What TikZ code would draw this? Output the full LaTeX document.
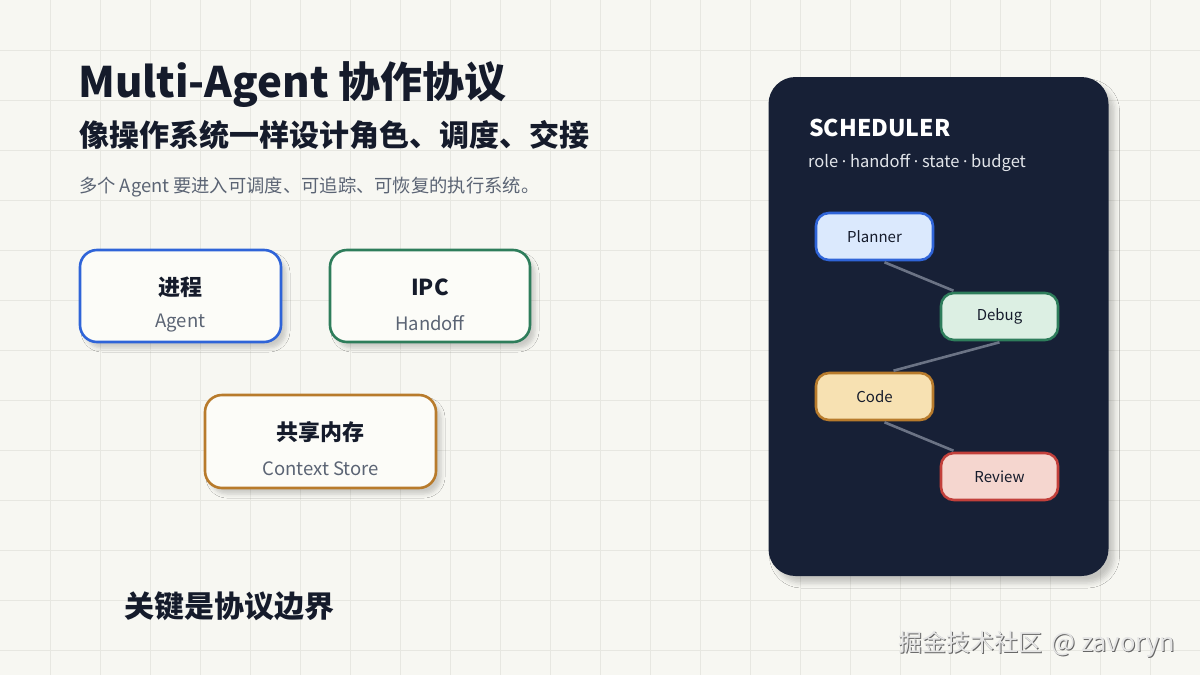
\documentclass[tikz,border=0pt]{standalone}
\usepackage{fontspec}
\setmainfont{Noto Sans CJK SC}
\newfontfamily\latdot{Noto Sans}
\usetikzlibrary{calc,shadows.blur}
\definecolor{bgc}{HTML}{F7F7F2}
\definecolor{gridc}{HTML}{E7E7E1}
\definecolor{ink}{HTML}{151B2B}
\definecolor{muted}{HTML}{5B6474}
\definecolor{cardfill}{HTML}{FCFCF8}
\definecolor{cblue}{HTML}{2F64D8}
\definecolor{cgreen}{HTML}{2E7D5B}
\definecolor{camber}{HTML}{B87B2C}
\definecolor{cred}{HTML}{C2403B}
\definecolor{navy}{HTML}{172036}
\definecolor{fblue}{HTML}{DBE9FD}
\definecolor{fgreen}{HTML}{DCEFE3}
\definecolor{famber}{HTML}{F7E1B2}
\definecolor{fred}{HTML}{F5D6CF}
\definecolor{linkc}{HTML}{6B7385}
\definecolor{softw}{HTML}{E2E5EA}
\newcommand{\fsz}[1]{\fontsize{#1}{#1}\selectfont}
\newcommand{\md}{{\latdot ·}}
\begin{document}
\begin{tikzpicture}[x=1pt,y=-1pt,
  card/.style={draw=#1,line width=2.6pt,fill=cardfill,rounded corners=17pt,
    minimum width=200pt,minimum height=91pt,inner sep=0pt,
    blur shadow={shadow xshift=5pt,shadow yshift=-6pt,shadow blur radius=4pt,shadow opacity=18}},
  cardtitle/.style={font=\fsz{22}\bfseries,text=ink,inner sep=0pt},
  cardsub/.style={font=\fsz{18.5},text=muted,inner sep=0pt},
  role/.style={draw=#1,line width=2.6pt,rounded corners=13pt,minimum width=117pt,
    minimum height=47pt,inner sep=0pt,font=\fsz{15},text=ink},
  link/.style={draw=linkc,line width=2.6pt}
]
\useasboundingbox (0,0) rectangle (1200,675);
\fill[bgc] (0,0) rectangle (1200,675);
\foreach \i in {50,100,...,1150} \draw[gridc,line width=1pt] (\i,0) -- (\i,675);
\foreach \j in {50,100,...,650} \draw[gridc,line width=1pt] (0,\j) -- (1200,\j);

% headings
\node[anchor=base west,inner sep=0pt,font=\fsz{42}\bfseries,text=ink] (title) at (78,97) {Multi-Agent 协作协议};
\node[anchor=base west,inner sep=0pt,font=\fsz{30}\bfseries,text=ink] (subtitle) at (79,146) {像操作系统一样设计角色、调度、交接};
\node[anchor=base west,inner sep=0pt,font=\fsz{18.3},text=muted] (desc) at (79,192) {多个 Agent 要进入可调度、可追踪、可恢复的执行系统。};

% cards
\node[card=cblue,minimum width=201pt,minimum height=92pt] (proc) at (180.5,296) {};
\node[cardtitle] at ($(proc.center)+(0,-9)$) {进程};
\node[cardsub] at ($(proc.center)+(0,27)$) {Agent};

\node[card=cgreen,minimum width=200pt,minimum height=92pt] (ipc) at (430,296) {};
\node[cardtitle] at ($(ipc.center)+(0,-9)$) {IPC};
\node[cardsub] at ($(ipc.center)+(0,27)$) {Handoff};

\node[card=camber,minimum width=231pt,minimum height=93pt] (mem) at (320.5,441.5) {};
\node[cardtitle] at ($(mem.center)+(0,-9)$) {共享内存};
\node[cardsub] at ($(mem.center)+(0,27)$) {Context Store};

\node[anchor=base west,inner sep=0pt,font=\fsz{30}\bfseries,text=ink] (key) at (124,617) {关键是协议边界};

% scheduler panel
\node[fill=navy,rounded corners=27pt,minimum width=340pt,minimum height=499pt,inner sep=0pt,
  blur shadow={shadow xshift=6pt,shadow yshift=-7pt,shadow blur radius=5pt,shadow opacity=20}] (panel) at (938.5,326.5) {};
\node[anchor=base west,inner sep=0pt,font=\fsz{23}\bfseries,text=white] (sched) at (809,136) {SCHEDULER};
\node[anchor=base west,inner sep=0pt,font=\fsz{16.5},text=softw] (tags) at (808,167) {role \md{} handoff \md{} state \md{} budget};

\node[role=cblue,fill=fblue] (planner) at (874.5,236.5) {Planner};
\node[role=cgreen,fill=fgreen] (debug) at (999.5,316.5) {Debug};
\node[role=camber,fill=famber] (code) at (874.5,396.5) {Code};
\node[role=cred,fill=fred] (review) at (999.5,476.5) {Review};

\draw[link] ($(planner.south)+(10,1)$) -- ($(debug.north)+(-46,-1)$);
\draw[link] ($(debug.south)+(0,1)$) -- ($(code.north)+(19,-1)$);
\draw[link] ($(code.south)+(10,1)$) -- ($(review.north)+(-46,-1)$);

% watermark
\node[anchor=base west,inner sep=0pt,font=\fsz{24},text=black!60] (wmshadow) at (899,652) {掘金技术社区\hspace{9pt}{\fsz{25.5}@ zavoryn}};
\node[anchor=base west,inner sep=0pt,font=\fsz{24},text=black!10] (wm) at (898,651) {掘金技术社区\hspace{9pt}{\fsz{25.5}@ zavoryn}};
\end{tikzpicture}
\end{document}
